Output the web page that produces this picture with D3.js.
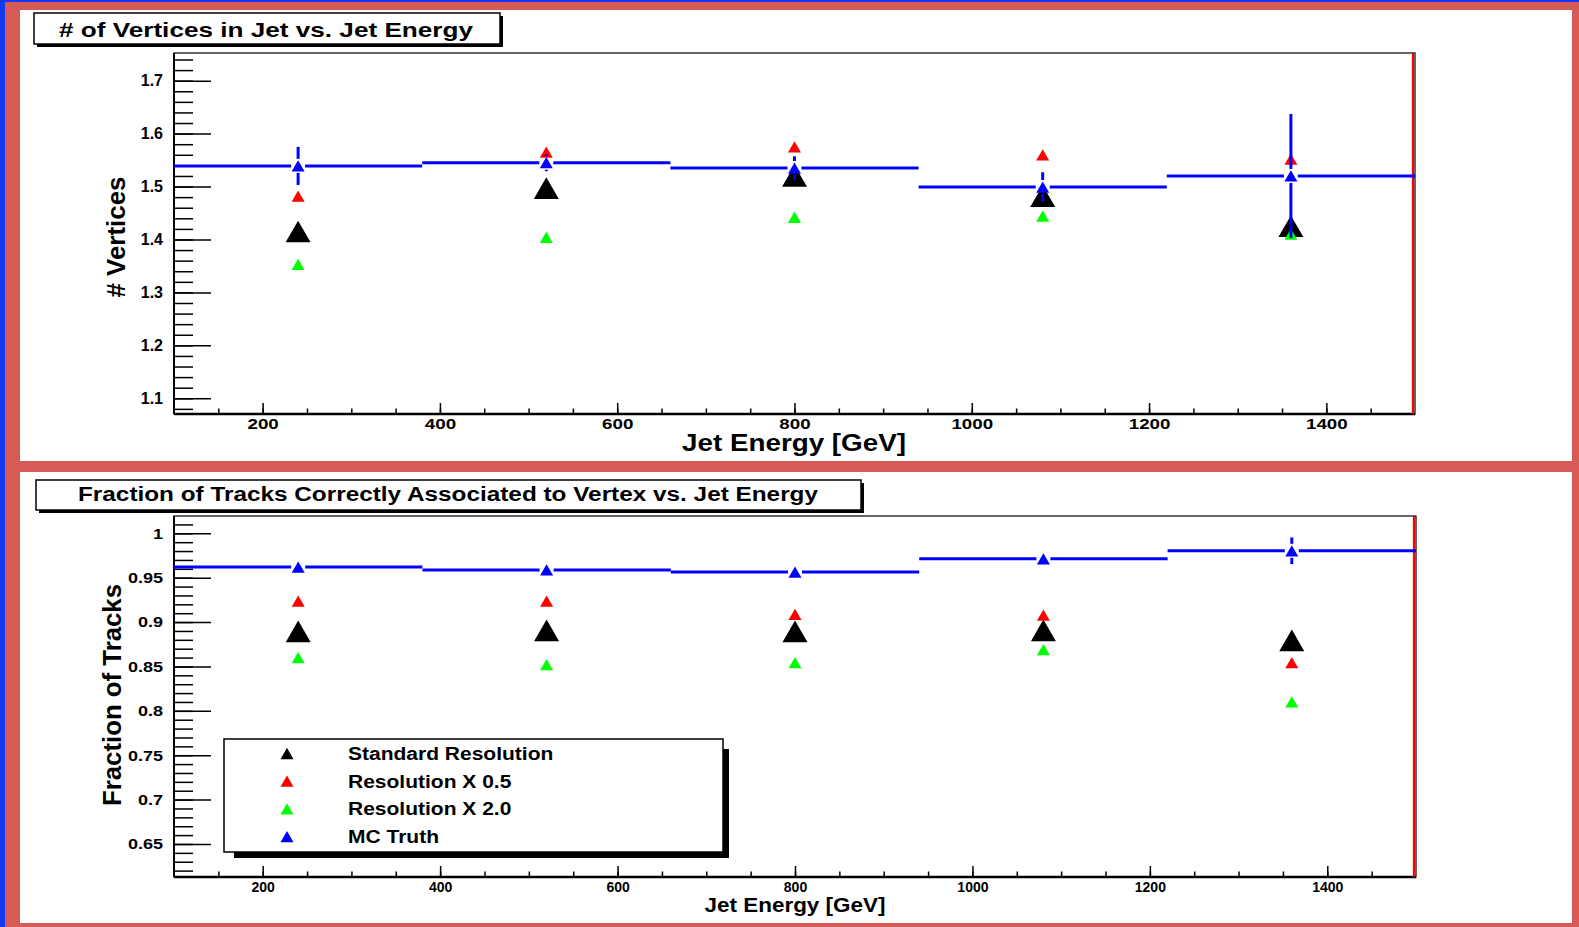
<!DOCTYPE html>
<html>
<head>
<meta charset="utf-8">
<title>Vertices and track association vs jet energy</title>
<script src="https://cdn.jsdelivr.net/npm/d3@7/dist/d3.min.js"></script>
<style>
  body { margin: 0; background: #1436f5; overflow: hidden; }
  svg { display: block; }
  text { font-family: "Liberation Sans", Arial, Helvetica, sans-serif; font-weight: bold; fill: #000; }
</style>
</head>
<body>
<script>
// bins and points
var binEdges = [100, 380, 660, 940, 1220, 1500];
var energies = [240, 520, 800, 1080, 1360];
var seriesNames = ["Standard Resolution", "Resolution X 0.5", "Resolution X 2.0", "MC Truth"];
var seriesColors = ["#000000", "#ff0000", "#00ff00", "#0000ff"];

// # of vertices in jet
var vtxStandard = [1.415, 1.497, 1.520, 1.482, 1.425];
var vtxHalf     = [1.482, 1.565, 1.575, 1.560, 1.552];
var vtxDouble   = [1.353, 1.404, 1.442, 1.444, 1.410];
var vtxTruth    = [1.539, 1.545, 1.535, 1.499, 1.520];
var vtxTruthErr = [0.036, 0.016, 0.022, 0.028, 0.117];

// fraction of tracks correctly associated
var fracStandard = [0.8895, 0.8907, 0.8895, 0.8907, 0.8793];
var fracHalf     = [0.9235, 0.9235, 0.9088, 0.9077, 0.8544];
var fracDouble   = [0.860, 0.852, 0.8544, 0.869, 0.810];
var fracTruth    = [0.962, 0.9587, 0.9564, 0.9712, 0.9803];
var fracTruthErr = [0.003, 0.003, 0.003, 0.003, 0.015];

var xTicks = [200, 400, 600, 800, 1000, 1200, 1400];
var vtxTicks = [1.1, 1.2, 1.3, 1.4, 1.5, 1.6, 1.7];
var fracTicks = [0.65, 0.7, 0.75, 0.8, 0.85, 0.9, 0.95, 1];

var W = 1579, H = 927;
var svg = d3.select("body").append("svg").attr("width", W).attr("height", H);

// frame: blue edge, red border, two white pads
svg.append("rect").attr("x", 5).attr("y", 2).attr("width", W - 5).attr("height", H - 2).attr("fill", "#d65b56");
svg.append("rect").attr("x", 20).attr("y", 10).attr("width", 1552).attr("height", 451).attr("fill", "#fff");
svg.append("rect").attr("x", 20).attr("y", 472).attr("width", 1552).attr("height", 451).attr("fill", "#fff");

function stretch(sel, k) {
    sel.each(function() {
        var w = this.getComputedTextLength();
        d3.select(this).attr("textLength", w * k).attr("lengthAdjust", "spacingAndGlyphs");
    });
}
function fitText(sel, len) {
    sel.attr("textLength", len).attr("lengthAdjust", "spacingAndGlyphs");
}

function triangle(side) {
    return d3.symbol().type(d3.symbolTriangle).size(Math.sqrt(3) / 4 * side * side)();
}

function titleBox(x, y, w, h, label, tx, ty, size, len) {
    svg.append("rect").attr("x", x + 3).attr("y", y + 3).attr("width", w).attr("height", h).attr("fill", "#000");
    svg.append("rect").attr("x", x).attr("y", y).attr("width", w).attr("height", h)
        .attr("fill", "#fff").attr("stroke", "#000").attr("stroke-width", 1.5);
    svg.append("text").attr("x", tx).attr("y", ty).attr("font-size", size).text(label).call(fitText, len);
}

function drawPanel(p) {
    var x = d3.scaleLinear().domain([100, 1500]).range([p.left, p.right]);
    var y = d3.scaleLinear().domain(p.yDomain).range([p.bottom, p.top]);
    var g = svg.append("g");

    // y axis ticks (inside the frame)
    var yMinor = d3.range(Math.ceil(p.yDomain[0] / p.yMinor), Math.floor(p.yDomain[1] / p.yMinor) + 1)
        .map(function(i) { return +(i * p.yMinor).toFixed(4); });
    g.append("g").attr("transform", "translate(" + p.left + ",0)")
        .call(d3.axisLeft(y).tickValues(yMinor).tickSize(-19).tickFormat(""))
        .call(function(a) { a.select(".domain").remove(); a.selectAll("line").attr("stroke-width", 1.5); });
    var ya = g.append("g").attr("transform", "translate(" + p.left + ",0)")
        .call(d3.axisLeft(y).tickValues(p.yTicks).tickSize(-37).tickPadding(11).tickFormat(d3.format("~g")));
    ya.select(".domain").remove();
    ya.selectAll("line").attr("stroke-width", 1.5);
    ya.selectAll("text").style("font-size", p.yTickFont + "px").attr("font-family", null).call(stretch, p.yTickK);

    // x axis ticks
    var xMinor = d3.range(150, 1500, 50);
    g.append("g").attr("transform", "translate(0," + p.bottom + ")")
        .call(d3.axisBottom(x).tickValues(xMinor).tickSize(-5.5).tickFormat(""))
        .call(function(a) { a.select(".domain").remove(); a.selectAll("line").attr("stroke-width", 1.5); });
    var xa = g.append("g").attr("transform", "translate(0," + p.bottom + ")")
        .call(d3.axisBottom(x).tickValues(xTicks).tickSize(-11).tickPadding(p.xPad).tickFormat(d3.format("d")));
    xa.select(".domain").remove();
    xa.selectAll("line").attr("stroke-width", 1.5);
    xa.selectAll("text").style("font-size", p.xTickFont + "px").attr("font-family", null).call(stretch, p.xTickK);

    // frame
    g.append("rect").attr("x", p.left).attr("y", p.top).attr("width", p.right - p.left).attr("height", p.bottom - p.top)
        .attr("fill", "none").attr("stroke", "#000").attr("stroke-width", 1.2);
    g.append("line").attr("x1", p.left).attr("x2", p.right).attr("y1", p.bottom).attr("y2", p.bottom)
        .attr("stroke", "#000").attr("stroke-width", 2.5);
    g.append("line").attr("x1", p.left).attr("x2", p.left).attr("y1", p.top).attr("y2", p.bottom)
        .attr("stroke", "#000").attr("stroke-width", 2);
    g.append("line").attr("x1", p.right - 2).attr("x2", p.right - 2).attr("y1", p.top).attr("y2", p.bottom)
        .attr("stroke", "#ff0000").attr("stroke-width", 2.2);

    // MC truth histogram, interrupted at the marker
    var gap = 7;
    var bins = energies.map(function(e, i) {
        return { x0: binEdges[i], x1: binEdges[i + 1], c: e, v: p.truth[i], err: p.truthErr[i] };
    });
    bins.forEach(function(b) {
        [[x(b.x0), x(b.c) - gap], [x(b.c) + gap, x(b.x1)]].forEach(function(s) {
            g.append("line").attr("x1", s[0]).attr("x2", s[1]).attr("y1", y(b.v)).attr("y2", y(b.v))
                .attr("stroke", "#0000ff").attr("stroke-width", 3);
        });
    });

    // graph markers
    var series = [
        { vals: p.standard, color: seriesColors[0], side: 25 },
        { vals: p.half, color: seriesColors[1], side: 13 },
        { vals: p.dbl, color: seriesColors[2], side: 13 }
    ];
    series.forEach(function(s) {
        g.selectAll(null).data(energies).enter().append("path")
            .attr("d", triangle(s.side))
            .attr("transform", function(d, i) { return "translate(" + x(d) + "," + (y(s.vals[i]) + s.side * 0.866 / 6) + ")"; })
            .attr("fill", s.color);
    });

    // truth markers with error bars
    bins.forEach(function(b) {
        var cy = y(b.v), hi = y(b.v + b.err), lo = y(b.v - b.err);
        if (cy - hi > gap) g.append("line").attr("x1", x(b.c)).attr("x2", x(b.c)).attr("y1", hi).attr("y2", cy - gap)
            .attr("stroke", "#0000ff").attr("stroke-width", 3);
        if (lo - cy > gap) g.append("line").attr("x1", x(b.c)).attr("x2", x(b.c)).attr("y1", cy + gap).attr("y2", lo)
            .attr("stroke", "#0000ff").attr("stroke-width", 3);
        g.append("path").attr("d", triangle(13))
            .attr("transform", "translate(" + x(b.c) + "," + (cy + 13 * 0.866 / 6) + ")")
            .attr("fill", "#0000ff");
    });

    // axis titles
    g.append("text").attr("x", p.xLabel.x).attr("y", p.xLabel.y).attr("text-anchor", "middle")
        .attr("font-size", p.xLabel.size).text("Jet Energy [GeV]").call(fitText, p.xLabel.len);
    g.append("text").attr("transform", "translate(" + p.yLabel.x + "," + p.yLabel.y + ") rotate(-90)")
        .attr("text-anchor", "middle").attr("font-size", p.yLabel.size).text(p.yLabel.text).call(fitText, p.yLabel.len);
    return { x: x, y: y };
}

// upper pad
titleBox(34, 13, 466, 31, "# of Vertices in Jet vs. Jet Energy", 59, 36.5, 21, 414);
drawPanel({
    left: 174, right: 1415, top: 53, bottom: 414,
    yDomain: [1.0703, 1.7523], yTicks: vtxTicks, yMinor: 0.02,
    yTickFont: 16, yTickK: 1.0, xTickFont: 15, xTickK: 1.25, xPad: 4,
    standard: vtxStandard, half: vtxHalf, dbl: vtxDouble, truth: vtxTruth, truthErr: vtxTruthErr,
    xLabel: { x: 794, y: 451, size: 23, len: 224 },
    yLabel: { x: 125, y: 237, size: 25, len: 121, text: "# Vertices" }
});

// lower pad
titleBox(36, 480, 825, 30, "Fraction of Tracks Correctly Associated to Vertex vs. Jet Energy", 78, 501, 19.5, 740);
drawPanel({
    left: 174, right: 1416, top: 516, bottom: 877,
    yDomain: [0.6128, 1.0195], yTicks: fracTicks, yMinor: 0.01,
    yTickFont: 15, yTickK: 1.2, xTickFont: 14, xTickK: 1.0, xPad: 5,
    standard: fracStandard, half: fracHalf, dbl: fracDouble, truth: fracTruth, truthErr: fracTruthErr,
    xLabel: { x: 795, y: 912, size: 20, len: 181 },
    yLabel: { x: 121, y: 695, size: 26, len: 222, text: "Fraction of Tracks" }
});

// legend
var lg = svg.append("g");
lg.append("rect").attr("x", 234).attr("y", 852).attr("width", 495).attr("height", 6).attr("fill", "#000");
lg.append("rect").attr("x", 723).attr("y", 749).attr("width", 6).attr("height", 109).attr("fill", "#000");
lg.append("rect").attr("x", 224).attr("y", 739).attr("width", 499).attr("height", 113)
    .attr("fill", "#fff").attr("stroke", "#000").attr("stroke-width", 1.5);
var rowY = d3.scaleLinear().domain([0, 3]).range([753.5, 836.7]);
var rows = lg.selectAll(".entry").data(seriesNames).enter().append("g")
    .attr("transform", function(d, i) { return "translate(0," + rowY(i) + ")"; });
rows.append("path").attr("d", triangle(13))
    .attr("transform", "translate(287," + (13 * 0.866 / 6) + ")")
    .attr("fill", function(d, i) { return seriesColors[i]; });
rows.append("text").attr("x", 348).attr("y", 6.3).attr("font-size", 17.5).text(function(d) { return d; })
    .call(stretch, 1.2);
</script>
</body>
</html>
